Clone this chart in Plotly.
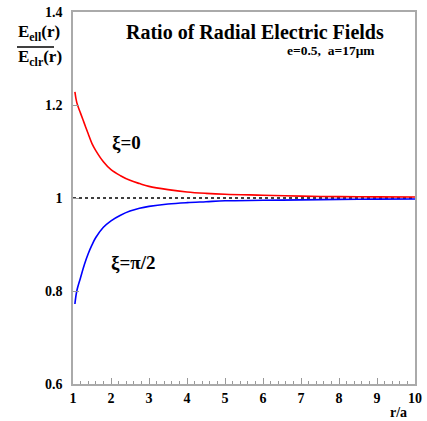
import plotly.graph_objects as go

r_over_a = [1.05, 1.1, 1.2, 1.3, 1.4, 1.5, 1.6, 1.8, 2.0, 2.25, 2.5, 2.75, 3.0, 3.5, 4.0, 4.5, 5.0, 6.0, 7.0, 8.0, 9.0, 10.0]
ratio_xi0 = [1.228, 1.205, 1.182, 1.160, 1.138, 1.117, 1.102, 1.078, 1.061, 1.048, 1.038, 1.031, 1.025, 1.018, 1.013, 1.010, 1.008, 1.006, 1.004, 1.003, 1.0025, 1.002]
ratio_xipi2 = [0.772, 0.800, 0.829, 0.857, 0.880, 0.899, 0.915, 0.937, 0.951, 0.963, 0.972, 0.978, 0.982, 0.987, 0.990, 0.992, 0.994, 0.995, 0.996, 0.997, 0.9975, 0.998]
ref_x = [1, 10]
ref_y = [1, 1]
x_ticks = [1, 2, 3, 4, 5, 6, 7, 8, 9, 10]
y_ticks = [0.6, 0.8, 1.0, 1.2, 1.4]
y_ticklabels = ["0.6", "0.8", "1", "1.2", "1.4"]

SERIF = "Liberation Serif"
W, H = 427, 421
L, R, T, B = 73, 12, 12, 37
PW, PH = W - L - R, H - T - B


def px(xp):
    return (xp - L) / PW


def py(yp):
    return (H - B - yp) / PH


fig = go.Figure()
fig.add_trace(go.Scatter(x=ref_x, y=ref_y, mode="lines",
                         line=dict(color="black", width=1.5, dash="dot"), hoverinfo="skip"))
fig.add_trace(go.Scatter(x=r_over_a, y=ratio_xi0, mode="lines",
                         line=dict(color="#ff0000", width=1.6, shape="spline")))
fig.add_trace(go.Scatter(x=r_over_a, y=ratio_xipi2, mode="lines",
                         line=dict(color="#0000ff", width=1.6, shape="spline")))

axfont = dict(family=SERIF, size=14, color="black", weight="bold")

fig.update_layout(
    width=W, height=H,
    margin=dict(l=L, r=R, t=T, b=B, autoexpand=False),
    paper_bgcolor="white", plot_bgcolor="white",
    showlegend=False,
    xaxis=dict(range=[1, 10], tickvals=x_ticks, ticks="inside", ticklen=6, automargin=False,
               tickcolor="#999999", showline=True, linecolor="#aaaaaa", linewidth=1.5,
               mirror=True, showgrid=False, zeroline=False, tickfont=axfont,
               minor=dict(ticks="inside", ticklen=3, dtick=0.2, tickcolor="#999999", showgrid=False)),
    yaxis=dict(range=[0.6, 1.4], tickvals=y_ticks, ticktext=y_ticklabels, ticks="inside",
               ticklen=6, tickcolor="#999999", showline=True, linecolor="#aaaaaa", automargin=False,
               linewidth=1.5, mirror=True, showgrid=False, zeroline=False, tickfont=axfont,
               ticklabelstandoff=6),
)

def note(text, x, y, size, xanchor="center", xref="paper", yref="paper"):
    fig.add_annotation(text=text, xref=xref, yref=yref, x=x, y=y, xanchor=xanchor,
                       yanchor="middle", showarrow=False,
                       font=dict(family=SERIF, size=size, color="black", weight="bold"))


note("Ratio of Radial Electric Fields", px(254.5), py(32), 20)
note("e=0.5,  a=17\u03bcm", px(377), py(50.5), 13.5, xanchor="right")
note("E<sub>ell</sub>(r)", px(16), py(33), 17, xanchor="left")
note("E<sub>clr</sub>(r)", px(16), py(58), 17, xanchor="left")
fig.add_shape(type="line", xref="paper", yref="paper",
              x0=px(17), x1=px(54), y0=py(47), y1=py(47),
              line=dict(color="black", width=1.5))
note("\u03be=0", 2.4, 1.118, 19, xref="x", yref="y")
note("\u03be=\u03c0/2", 2.6, 0.86, 19, xref="x", yref="y")
note("r/a", px(409), py(412), 14, xanchor="right")

fig.write_html("out.html")
